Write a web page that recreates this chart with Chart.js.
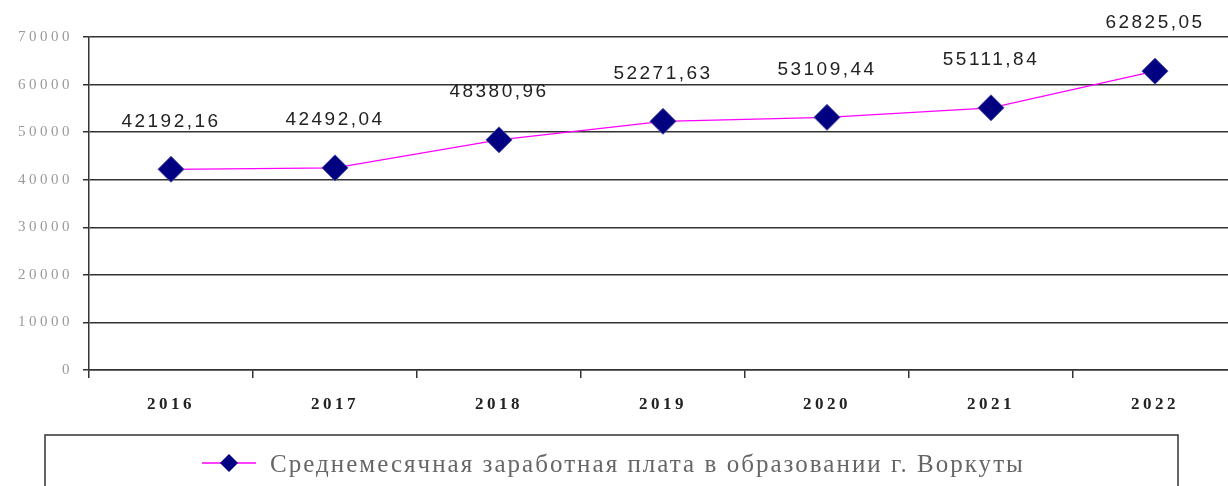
<!DOCTYPE html>
<html>
<head>
<meta charset="utf-8">
<script src="https://cdn.jsdelivr.net/npm/chart.js@4"></script>
<style>
    html, body { margin: 0; padding: 0; background: #fff; overflow: hidden; }
</style>
</head>
<body>
<canvas id="zarplata" width="1251" height="486"></canvas>
<script>
const years = ['2016', '2017', '2018', '2019', '2020', '2021', '2022'];
const salary = [42192.16, 42492.04, 48380.96, 52271.63, 53109.44, 55111.84, 62825.05];
const salaryLabels = ['42192,16', '42492,04', '48380,96', '52271,63', '53109,44', '55111,84', '62825,05'];
const seriesName = 'Среднемесячная заработная плата в образовании г. Воркуты';

// spacing for tick text (the original is drawn stretched)
const spacing = {
    id: 'spacing',
    beforeLayout(chart) { chart.ctx.letterSpacing = '3.5px' },
    beforeDraw(chart) { chart.ctx.letterSpacing = '3.5px' }
}

// value labels over the points
const valueLabels = {
    id: 'valueLabels',
    afterDatasetsDraw(chart) {
        const ctx = chart.ctx;
        const meta = chart.getDatasetMeta(0);
        ctx.save();
        ctx.letterSpacing = '2.5px';
        ctx.font = '19px "Liberation Sans", Arial, sans-serif';
        ctx.fillStyle = '#222';
        ctx.textAlign = 'center';
        ctx.textBaseline = 'middle';
        meta.data.forEach(function (pt, i) {
            ctx.fillText(salaryLabels[i], pt.x, pt.y - 48);
        });
        ctx.restore();
    }
}

// boxed legend at the bottom
const boxLegend = {
    id: 'boxLegend',
    afterDraw(chart) {
        const ctx = chart.ctx;
        ctx.save();
        ctx.letterSpacing = '0px';
        ctx.strokeStyle = '#333';
        ctx.lineWidth = 1.5;
        ctx.strokeRect(45, 435, 1133, 70);

        ctx.strokeStyle = '#ff00ff';
        ctx.lineWidth = 1.5;
        ctx.beginPath();
        ctx.moveTo(202, 463);
        ctx.lineTo(256, 463);
        ctx.stroke();

        ctx.fillStyle = '#000080';
        ctx.beginPath();
        ctx.moveTo(229, 454);
        ctx.lineTo(238, 463);
        ctx.lineTo(229, 472);
        ctx.lineTo(220, 463);
        ctx.closePath();
        ctx.fill();

        ctx.font = '25px "Liberation Serif", "Times New Roman", serif';
        const natural = ctx.measureText(seriesName).width;
        ctx.letterSpacing = ((755 - natural) / seriesName.length).toFixed(2) + 'px';
        ctx.fillStyle = '#666';
        ctx.textAlign = 'left';
        ctx.textBaseline = 'alphabetic';
        ctx.fillText(seriesName, 270, 472);
        ctx.restore();
    }
}

const config = {
    type: 'line',
    data: {
        labels: years,
        datasets: [{
            label: seriesName,
            data: salary,
            borderColor: '#ff00ff',
            borderWidth: 1.2,
            tension: 0,
            pointStyle: 'rectRot',
            pointRadius: 13,
            pointHoverRadius: 13,
            pointBackgroundColor: '#000080',
            pointBorderColor: '#4a4aa8',
            pointBorderWidth: 1
        }]
    },
    options: {
        responsive: false,
        animation: false,
        layout: {
            padding: { top: 37, right: 3, bottom: 0, left: 0 }
        },
        scales: {
            x: {
                offset: true,
                grid: {
                    offset: true,
                    drawOnChartArea: false,
                    color: '#333',
                    lineWidth: 1.5,
                    tickLength: 8
                },
                border: { color: '#333', width: 1.5 },
                ticks: {
                    padding: 16,
                    color: '#222',
                    font: { family: '"Liberation Serif", "Times New Roman", serif', size: 17, weight: 'bold' }
                },
                afterFit: function (scale) {
                    scale.height = 116;
                    scale.paddingLeft = 0;
                    scale.paddingRight = 0;
                }
            },
            y: {
                min: 0,
                max: 70000,
                ticks: {
                    stepSize: 10000,
                    padding: 10,
                    color: '#9a9a9a',
                    font: { family: '"Liberation Serif", "Times New Roman", serif', size: 15 },
                    callback: function (value) { return String(value) }
                },
                grid: {
                    color: '#333',
                    lineWidth: 1.5,
                    tickLength: 6
                },
                border: { color: '#333', width: 1.5 },
                afterFit: function (scale) { scale.width = 89 }
            }
        },
        plugins: {
            legend: { display: false },
            tooltip: { enabled: false }
        }
    },
    plugins: [spacing, valueLabels, boxLegend]
}

const chart = new Chart(document.getElementById('zarplata'), config);
</script>
</body>
</html>
